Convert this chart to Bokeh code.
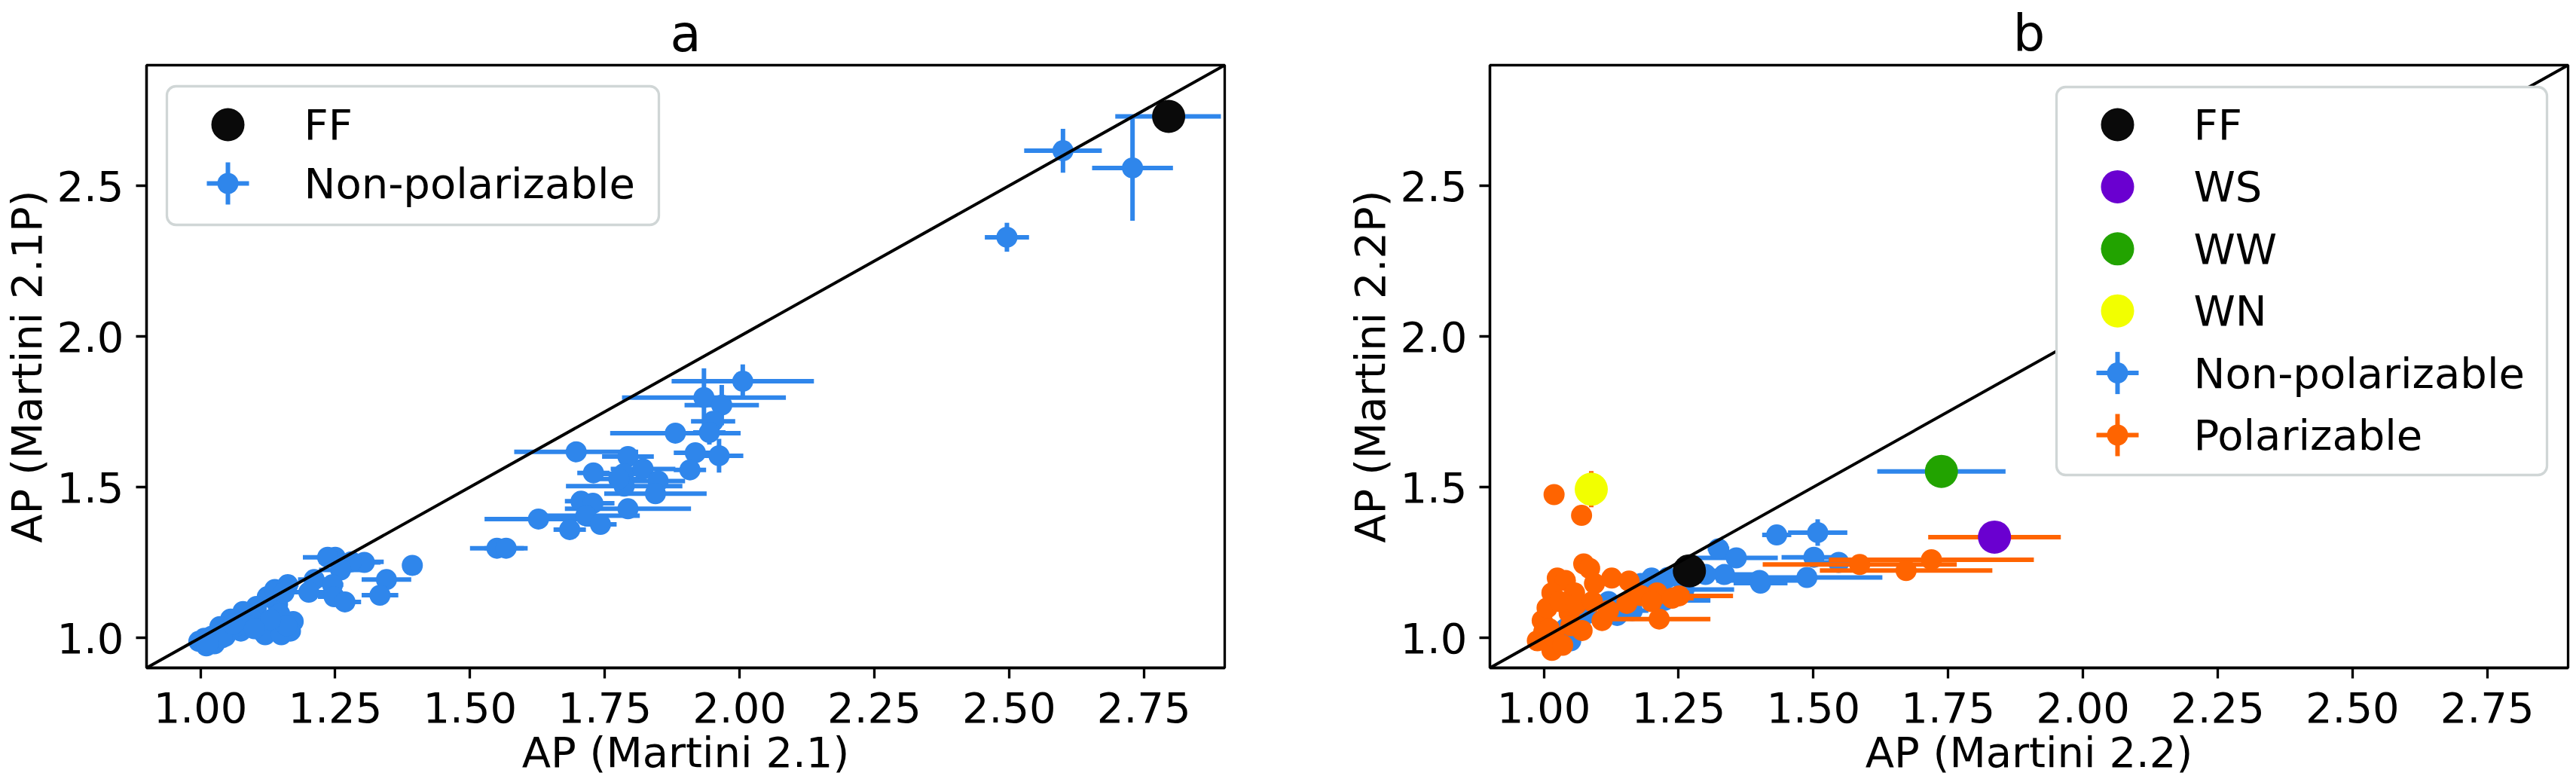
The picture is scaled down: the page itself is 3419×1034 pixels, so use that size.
from bokeh.plotting import figure
from bokeh.models import Range1d, FixedTicker, NumeralTickFormatter, Slope, ColumnDataSource, Quad
from bokeh.layouts import row
from bokeh.embed import file_html
from bokeh.resources import INLINE
from bokeh.core.properties import value

# ---------------- data ----------------
x_ticks = [1.0, 1.25, 1.5, 1.75, 2.0, 2.25, 2.5, 2.75]
y_ticks = [1.0, 1.5, 2.0, 2.5]

# Panel a: Martini 2.1 vs 2.1P, non-polarizable
a_x = [2.600, 2.729, 2.496, 2.795,
       2.006, 1.934, 1.967, 1.951, 1.944, 1.881, 1.918, 1.962, 1.908,
       1.697, 1.729, 1.793, 1.785, 1.821, 1.849, 1.844, 1.786, 1.776,
       1.793, 1.706, 1.728, 1.627, 1.715, 1.742, 1.685, 1.550, 1.567,
       1.393, 1.345, 1.333, 1.304, 1.280, 1.250, 1.236, 1.260, 1.211, 1.245,
       1.201, 1.248, 1.268, 1.162, 1.172, 1.167, 1.128, 1.114, 1.143,
       1.124, 1.104, 1.079, 1.056, 1.075, 1.036, 1.021, 1.007, 0.997,
       1.011, 1.026, 1.046, 1.065, 1.094, 1.147, 1.138, 1.155, 1.120,
       1.150, 1.090, 1.040, 1.015, 1.160, 1.130, 1.100, 1.060]
a_y = [2.616, 2.559, 2.329, 2.730,
       1.851, 1.797, 1.772, 1.718, 1.681, 1.679, 1.614, 1.604, 1.557,
       1.617, 1.547, 1.601, 1.544, 1.560, 1.520, 1.478, 1.503, 1.527,
       1.428, 1.453, 1.446, 1.394, 1.405, 1.376, 1.359, 1.297, 1.297,
       1.240, 1.193, 1.141, 1.250, 1.252, 1.267, 1.267, 1.225, 1.193, 1.176,
       1.151, 1.136, 1.119, 1.176, 1.054, 1.022, 1.022, 1.022, 1.111,
       1.136, 1.104, 1.087, 1.062, 1.022, 1.037, 1.005, 0.998, 0.988,
       0.973, 0.980, 1.005, 1.037, 1.062, 1.079, 1.160, 1.150, 1.010,
       1.010, 1.040, 1.000, 0.985, 1.040, 1.060, 1.030, 1.045]
a_xerr = [0.072, 0.075, 0.041, 0.098,
          0.132, 0.152, 0.069, 0.041, 0.030, 0.121, 0.040, 0.045, 0.030,
          0.115, 0.030, 0.048, 0.070, 0.060, 0.050, 0.095, 0.108, 0.040,
          0.117, 0.030, 0.040, 0.100, 0.100, 0.030, 0.030, 0.050, 0.040,
          0.010, 0.046, 0.034, 0.030, 0.060, 0.060, 0.020, 0.040, 0.030, 0.020,
          0.030, 0.030, 0.030, 0.020, 0.010, 0.010, 0.010, 0.010, 0.010,
          0.010, 0.010, 0.010, 0.010, 0.010, 0.010, 0.010, 0.010, 0.010,
          0.010, 0.010, 0.010, 0.010, 0.010, 0.010, 0.010, 0.010, 0.010,
          0.010, 0.010, 0.010, 0.010, 0.010, 0.010, 0.010, 0.010]
a_yerr = [0.073, 0.175, 0.048, 0.020,
          0.056, 0.097, 0.067, 0.030, 0.040, 0.020, 0.030, 0.056, 0.020,
          0.020, 0.030, 0.020, 0.020, 0.020, 0.020, 0.020, 0.020, 0.020,
          0.020, 0.020, 0.020, 0.020, 0.020, 0.020, 0.020, 0.010, 0.010,
          0.020, 0.020, 0.010, 0.010, 0.010, 0.010, 0.010, 0.010, 0.010, 0.010,
          0.010, 0.010, 0.010, 0.010, 0.010, 0.010, 0.010, 0.010, 0.010,
          0.010, 0.010, 0.010, 0.010, 0.010, 0.010, 0.010, 0.010, 0.010,
          0.020, 0.020, 0.010, 0.010, 0.010, 0.010, 0.010, 0.010, 0.010,
          0.010, 0.010, 0.010, 0.010, 0.010, 0.010, 0.010, 0.010]
a_ff_x = [2.796]
a_ff_y = [2.730]

# Panel b: Martini 2.2 vs 2.2P
b_np_x = [1.7375, 1.432, 1.508, 1.324, 1.357, 1.335, 1.400, 1.488, 1.501, 1.547,
          1.402, 1.270, 1.200, 1.230, 1.164, 1.136, 1.224, 1.260, 1.180, 1.120,
          1.080, 1.040, 1.020, 1.050, 1.300]
b_np_y = [1.552, 1.341, 1.349, 1.295, 1.265, 1.210, 1.190, 1.200, 1.267, 1.250,
          1.181, 1.222, 1.198, 1.200, 1.090, 1.074, 1.124, 1.160, 1.180, 1.120,
          1.080, 1.030, 0.980, 0.990, 1.210]
b_np_xerr = [0.119, 0.027, 0.055, 0.020, 0.077, 0.060, 0.080, 0.140, 0.060, 0.030,
             0.050, 0.050, 0.020, 0.030, 0.030, 0.030, 0.085, 0.093, 0.020, 0.020,
             0.020, 0.010, 0.010, 0.010, 0.040]
b_np_yerr = [0.020, 0.010, 0.044, 0.010, 0.010, 0.010, 0.010, 0.010, 0.010, 0.010,
             0.010, 0.010, 0.010, 0.010, 0.010, 0.010, 0.010, 0.010, 0.010, 0.010,
             0.010, 0.010, 0.010, 0.010, 0.010]

b_p_x = [1.088, 1.019, 1.070, 1.836, 1.586, 1.719, 1.672, 1.214, 1.251, 1.074,
         1.085, 1.025, 1.040, 1.015, 1.057, 1.094, 1.126, 1.158, 1.210, 1.238,
         0.997, 1.015, 0.988, 1.108, 1.071, 1.154, 1.047, 1.006, 1.030, 1.050,
         1.000, 1.020, 1.120, 1.180, 1.200, 1.035, 1.060, 1.090, 1.010]
b_p_y = [1.493, 1.475, 1.406, 1.334, 1.243, 1.259, 1.223, 1.062, 1.139, 1.245,
         1.230, 1.198, 1.190, 1.149, 1.149, 1.180, 1.198, 1.188, 1.149, 1.131,
         1.057, 0.958, 0.990, 1.057, 1.024, 1.114, 1.082, 1.099, 1.120, 1.040,
         1.020, 1.000, 1.090, 1.140, 1.120, 0.975, 1.110, 1.120, 1.030]
b_p_xerr = [0.005, 0.005, 0.012, 0.123, 0.180, 0.190, 0.160, 0.095, 0.100, 0.010,
            0.010, 0.010, 0.010, 0.010, 0.010, 0.010, 0.010, 0.010, 0.060, 0.040,
            0.005, 0.005, 0.005, 0.010, 0.010, 0.010, 0.010, 0.005, 0.010, 0.010,
            0.005, 0.005, 0.010, 0.020, 0.030, 0.005, 0.010, 0.010, 0.005]
b_p_yerr = [0.060, 0.005, 0.010, 0.010, 0.010, 0.010, 0.010, 0.010, 0.010, 0.010,
            0.010, 0.020, 0.010, 0.010, 0.010, 0.010, 0.010, 0.010, 0.010, 0.010,
            0.010, 0.010, 0.010, 0.010, 0.010, 0.010, 0.010, 0.010, 0.010, 0.010,
            0.010, 0.010, 0.010, 0.010, 0.010, 0.010, 0.010, 0.010, 0.010]

b_special_names = ["FF", "WS", "WW", "WN"]
b_special_x = [1.270, 1.836, 1.7375, 1.088]
b_special_y = [1.222, 1.334, 1.552, 1.493]

# ---------------- style ----------------
FONT = "DejaVu Sans"
FS = "56px"
TITLE_FS = "67px"
BLUE = "#2f86eb"
ORANGE = "#ff6400"
BLACK = "#0a0a0a"
SPECIAL_COLORS = {"FF": BLACK, "WS": "#6a00d0", "WW": "#22a300", "WN": "#f2ff00"}
FW, FH = 1431, 800
SMALL, BIG = 28, 44
HAS_RADIUS = "border_radius" in Quad.properties()


def make_fig(title, xlabel, ylabel, border_right):
    p = figure(frame_width=FW, frame_height=FH,
               x_range=Range1d(0.9, 2.9), y_range=Range1d(0.9, 2.9),
               output_backend="svg", toolbar_location=None,
               min_border_left=190, min_border_right=border_right,
               min_border_top=66, min_border_bottom=150,
               title=title, x_axis_label=xlabel, y_axis_label=ylabel,
               background_fill_color="white", border_fill_color="white")
    p.title.align = "center"
    p.title.text_font = FONT
    p.title.text_font_size = TITLE_FS
    p.title.text_font_style = "normal"
    p.title.text_color = "black"
    p.title.standoff = 6
    p.grid.visible = False
    p.outline_line_color = "black"
    p.outline_line_width = 3.3
    p.outline_line_alpha = 1.0
    for ax in (p.xaxis[0], p.yaxis[0]):
        ax.axis_label_text_font = FONT
        ax.axis_label_text_font_size = FS
        ax.axis_label_text_font_style = "normal"
        ax.axis_label_text_color = "black"
        ax.major_label_text_font = FONT
        ax.major_label_text_font_size = FS
        ax.major_label_text_color = "black"
        ax.major_tick_out = 14
        ax.major_tick_in = 0
        ax.minor_tick_out = 0
        ax.minor_tick_in = 0
        ax.major_tick_line_width = 3.3
        ax.major_tick_line_color = "black"
        ax.axis_line_width = 3.3
        ax.axis_line_color = "black"
    p.xaxis.ticker = FixedTicker(ticks=x_ticks)
    p.yaxis.ticker = FixedTicker(ticks=y_ticks)
    p.xaxis.formatter = NumeralTickFormatter(format="0.00")
    p.yaxis.formatter = NumeralTickFormatter(format="0.0")
    p.xaxis.major_label_standoff = 18
    p.yaxis.major_label_standoff = 16
    p.xaxis.axis_label_standoff = 4
    p.yaxis.axis_label_standoff = 4
    # pixel-space ranges (frame px, y downward) for the legend
    p.extra_x_ranges = {"lx": Range1d(0, FW)}
    p.extra_y_ranges = {"ly": Range1d(FH, 0)}
    return p


def add_errorbar_series(p, xs, ys, xe, ye, color):
    src = ColumnDataSource(dict(
        x=xs, y=ys,
        xl=[x - e for x, e in zip(xs, xe)], xr=[x + e for x, e in zip(xs, xe)],
        yl=[y - e for y, e in zip(ys, ye)], yh=[y + e for y, e in zip(ys, ye)]))
    p.segment(x0="xl", y0="y", x1="xr", y1="y", source=src,
              line_color=color, line_width=6)
    p.segment(x0="x", y0="yl", x1="x", y1="yh", source=src,
              line_color=color, line_width=6)
    p.scatter("x", "y", source=src, size=SMALL, fill_color=color, line_color=None)


def add_legend(p, left, top, width, height, entries, row_y0, row_step):
    qkw = dict(border_radius=12) if HAS_RADIUS else {}
    p.quad(left=[left], right=[left + width], top=[top], bottom=[top + height],
           x_range_name="lx", y_range_name="ly", fill_color="white", fill_alpha=1.0,
           line_color="#d0d6d6", line_width=3.3, level="overlay", **qkw)
    mx = left + 81
    tx = left + 182
    ys = [top + row_y0 + i * row_step for i in range(len(entries))]
    for (label, color, kind), y in zip(entries, ys):
        if kind == "err":
            p.segment(x0=[mx - 28], y0=[y], x1=[mx + 28], y1=[y],
                      x_range_name="lx", y_range_name="ly",
                      line_color=color, line_width=6, level="overlay")
            p.segment(x0=[mx], y0=[y - 28], x1=[mx], y1=[y + 28],
                      x_range_name="lx", y_range_name="ly",
                      line_color=color, line_width=6, level="overlay")
            p.scatter(x=[mx], y=[y], size=SMALL, fill_color=color, line_color=None,
                      x_range_name="lx", y_range_name="ly", level="overlay")
        else:
            p.scatter(x=[mx], y=[y], size=BIG, fill_color=color, line_color=None,
                      x_range_name="lx", y_range_name="ly", level="overlay")
    p.text(x=[tx] * len(entries), y=ys, text=[e[0] for e in entries],
           x_range_name="lx", y_range_name="ly",
           text_font=value(FONT), text_font_size=FS, text_color="black",
           text_align="left", text_baseline="middle", level="overlay")


# ---------------- panel a ----------------
pa = make_fig("a", "AP (Martini 2.1)", "AP (Martini 2.1P)", 158)
add_errorbar_series(pa, a_x, a_y, a_xerr, a_yerr, BLUE)
pa.scatter(a_ff_x, a_ff_y, size=BIG, fill_color=BLACK, line_color=None)
pa.add_layout(Slope(gradient=1, y_intercept=0, line_color="black", line_width=4))
add_legend(pa, 27, 28, 653, 184,
           [("FF", BLACK, "big"), ("Non-polarizable", BLUE, "err")], 51, 78)

# ---------------- panel b ----------------
pb = make_fig("b", "AP (Martini 2.2)", "AP (Martini 2.2P)", 3)
add_errorbar_series(pb, b_np_x, b_np_y, b_np_xerr, b_np_yerr, BLUE)
add_errorbar_series(pb, b_p_x, b_p_y, b_p_xerr, b_p_yerr, ORANGE)
for name, x, y in zip(b_special_names, b_special_x, b_special_y):
    pb.scatter([x], [y], size=BIG, fill_color=SPECIAL_COLORS[name], line_color=None)
pb.add_layout(Slope(gradient=1, y_intercept=0, line_color="black", line_width=4))
add_legend(pb, FW - 28 - 651, 29, 651, 515,
           [("FF", BLACK, "big"), ("WS", SPECIAL_COLORS["WS"], "big"),
            ("WW", SPECIAL_COLORS["WW"], "big"), ("WN", SPECIAL_COLORS["WN"], "big"),
            ("Non-polarizable", BLUE, "err"), ("Polarizable", ORANGE, "err")],
           50, 82.4)

layout = row(pa, pb)
open("out.html", "w").write(file_html(layout, INLINE))
